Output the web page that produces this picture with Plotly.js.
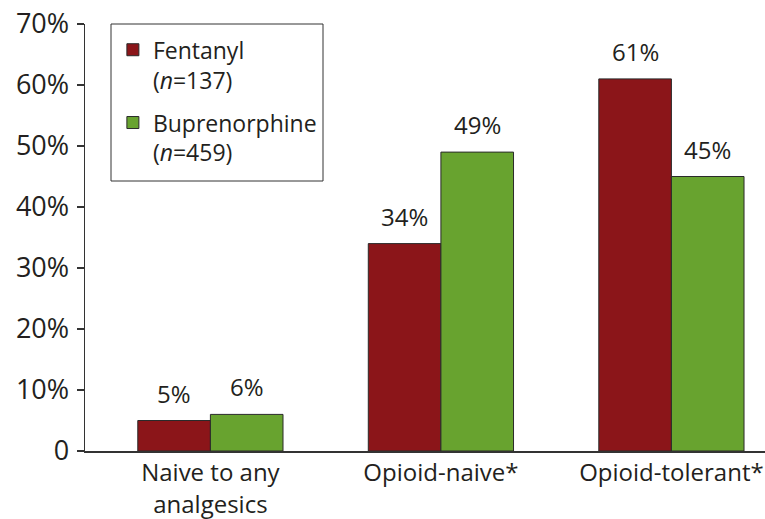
<!DOCTYPE html>
<html>
<head>
<meta charset="utf-8">
<script src="https://cdn.plot.ly/plotly-3.0.1.min.js"></script>
<style>html,body{margin:0;padding:0;background:#fff}#chart{width:765px;height:519px}</style>
</head>
<body>
<div id="chart"></div>
<script>
const categories = ["Naive to any<br>analgesics", "Opioid-naive*", "Opioid-tolerant*"];
const fentanyl = [5, 34, 61];
const buprenorphine = [6, 49, 45];
const seriesNames = ["Fentanyl<br>(<i>n</i>=137)", "Buprenorphine<br>(<i>n</i>=459)"];
const yTickVals = [0, 10, 20, 30, 40, 50, 60, 70];
const yTickText = ["0", "10%", "20%", "30%", "40%", "50%", "60%", "70%"];

const FONT = "Open Sans, Liberation Sans, sans-serif";
const TXT = "#231f20";
const BAR_HALF_PX = 36.3;

function barTrace(vals, name, color, group) {
  return {
    type: "bar", x: categories, y: vals, name: name, legendgroup: group,
    marker: {color: color, line: {color: "#2a2a2a", width: 1}},
    hoverinfo: "skip"
  };
}

const data = [
  barTrace(fentanyl, seriesNames[0], "#8b1519", "a"),
  barTrace(buprenorphine, seriesNames[1], "#68a32f", "b")
];

function labels(vals, shift) {
  return vals.map((v, i) => ({
    x: categories[i], y: v, xref: "x", yref: "y",
    text: v + "%", showarrow: false, xanchor: "center", yanchor: "bottom",
    xshift: shift, yshift: 9,
    font: {family: FONT, size: 24, color: TXT}
  }));
}

const layout = {
  width: 765, height: 519,
  margin: {l: 85, r: 0, t: 24, b: 68},
  paper_bgcolor: "#fff", plot_bgcolor: "#fff",
  font: {family: FONT, size: 23, color: TXT},
  barmode: "group", bargap: 0.37, bargroupgap: 0,
  showlegend: true,
  legend: {
    x: 0.041, y: 0.99, xanchor: "left", yanchor: "top",
    bgcolor: "rgba(0,0,0,0)", borderwidth: 0,
    traceorder: "grouped", tracegroupgap: 10, valign: "top",
    font: {family: FONT, size: 23, color: TXT}, itemclick: false
  },
  annotations: labels(fentanyl, -BAR_HALF_PX).concat(labels(buprenorphine, BAR_HALF_PX)),
  shapes: [{
    type: "rect", xref: "paper", yref: "paper",
    x0: (111 - 85) / 680, x1: (323 - 85) / 680,
    y0: (451 - 181) / 427, y1: 1,
    line: {color: "#333", width: 1}, fillcolor: "rgba(0,0,0,0)", layer: "above"
  }],
  xaxis: {
    type: "category", range: [-0.544, 2.406], fixedrange: true,
    showline: true, linecolor: "#333", linewidth: 1.5,
    ticks: "", showgrid: false, zeroline: false,
    tickfont: {family: FONT, size: 24, color: TXT}
  },
  yaxis: {
    range: [0, 70], fixedrange: true,
    tickvals: yTickVals, ticktext: yTickText,
    showline: true, linecolor: "#333", linewidth: 1.5,
    ticks: "outside", ticklen: 7, tickcolor: "#333", tickwidth: 1.5,
    showgrid: false, zeroline: false,
    ticklabelstandoff: 2,
    tickfont: {family: FONT, size: 27, color: TXT}
  }
};

Plotly.newPlot("chart", data, layout, {staticPlot: true, displayModeBar: false});
</script>
</body>
</html>
